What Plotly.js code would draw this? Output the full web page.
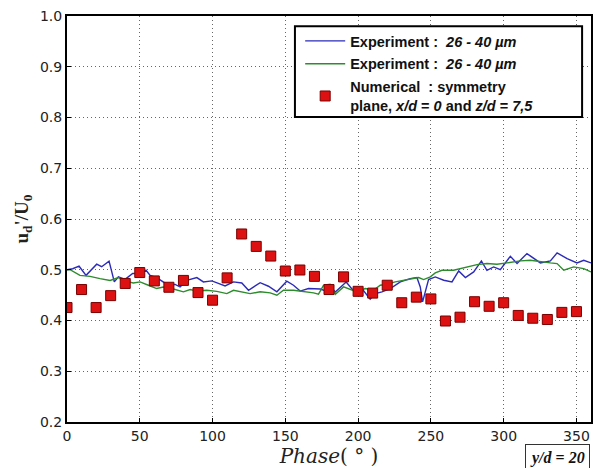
<!DOCTYPE html>
<html>
<head>
<meta charset="utf-8">
<script src="https://cdn.plot.ly/plotly-3.0.1.min.js"></script>
<style>html,body{margin:0;padding:0;background:#fff;}#chart{width:598px;height:468px;}</style>
</head>
<body>
<div id="chart"></div>
<script>
// Experiment (blue)
const blueX = [0, 3.9, 8.3, 13.1, 20.4, 23.8, 28.9, 32.5, 35.3, 39.9, 45.1, 50.2, 54.3, 57.1, 61.6, 68.5, 74.3, 77.7, 82.3, 89.2, 93.7, 99.5, 104, 108.6, 114.4, 120.1, 124.7, 132.7, 138.4, 144.2, 151, 155.6, 160.2, 165.9, 174, 178.5, 180.4, 184.3, 191.8, 196.9, 202.6, 208.3, 211.8, 216.4, 222.1, 229, 235.8, 240.4, 242.7, 244.3, 248.4, 253, 258.8, 264.5, 269.1, 273.7, 279.4, 284.7, 288.5, 293.1, 297.7, 304.6, 309.2, 316, 325.2, 332.1, 336.7, 343.6, 350.4, 355, 360];
const blueY = [0.500, 0.502, 0.507, 0.489, 0.511, 0.506, 0.517, 0.476, 0.486, 0.481, 0.4925, 0.4925, 0.499, 0.489, 0.4845, 0.4715, 0.471, 0.466, 0.479, 0.4845, 0.476, 0.478, 0.473, 0.468, 0.476, 0.474, 0.4595, 0.4745, 0.4675, 0.4565, 0.4775, 0.4695, 0.458, 0.463, 0.462, 0.4575, 0.4695, 0.4563, 0.476, 0.4583, 0.463, 0.4419, 0.453, 0.4563, 0.463, 0.476, 0.4826, 0.4846, 0.4662, 0.4366, 0.4806, 0.4859, 0.4793, 0.476, 0.4977, 0.4846, 0.4957, 0.5174, 0.499, 0.5056, 0.5003, 0.5266, 0.5122, 0.5319, 0.5135, 0.5174, 0.5332, 0.522, 0.5135, 0.5187, 0.5135];
// Experiment (green)
const greenX = [0, 2.1, 8.9, 15.8, 22.7, 29.6, 35.3, 39.9, 45.6, 50.2, 55.9, 61.6, 66.2, 73.1, 80, 84.6, 89.2, 96, 102.9, 109.8, 114.4, 118.9, 125.8, 132.7, 139.6, 144.2, 148.7, 155.6, 162.5, 169.4, 172.8, 176.3, 180.8, 184.3, 190, 195.7, 199.2, 204.9, 210.6, 215.2, 219.8, 225.5, 231.3, 237, 241.6, 245, 249.6, 253, 257.6, 265.6, 270.2, 274.8, 281.7, 288.5, 295.4, 302.3, 311.5, 318.3, 325.2, 332.1, 336.7, 341.3, 348.1, 355, 360];
const greenY = [0.500, 0.500, 0.489, 0.487, 0.4825, 0.479, 0.4845, 0.4775, 0.474, 0.476, 0.4695, 0.463, 0.466, 0.462, 0.4565, 0.461, 0.458, 0.4595, 0.4575, 0.453, 0.4595, 0.4575, 0.453, 0.4565, 0.4545, 0.4497, 0.4595, 0.4595, 0.4575, 0.4545, 0.452, 0.4695, 0.4714, 0.4517, 0.4662, 0.461, 0.4563, 0.463, 0.4596, 0.4695, 0.4714, 0.476, 0.4793, 0.4826, 0.4846, 0.4806, 0.4859, 0.4938, 0.499, 0.499, 0.5023, 0.5056, 0.5102, 0.5122, 0.5109, 0.5135, 0.5174, 0.5187, 0.5154, 0.5135, 0.5122, 0.499, 0.5056, 0.5023, 0.4957];
// Numerical
const numX = [0, 10, 20, 30, 40, 50, 60, 70, 80, 90, 100, 110, 120, 130, 140, 150, 160, 170, 180, 190, 200, 210, 220, 230, 240, 250, 260, 270, 280, 290, 300, 310, 320, 330, 340, 350];
const numY = [0.4255, 0.461, 0.4255, 0.449, 0.473, 0.4945, 0.478, 0.4655, 0.479, 0.455, 0.440, 0.484, 0.5705, 0.546, 0.527, 0.4975, 0.4995, 0.487, 0.461, 0.486, 0.4575, 0.454, 0.4695, 0.435, 0.446, 0.4425, 0.399, 0.4065, 0.437, 0.428, 0.435, 0.410, 0.4045, 0.402, 0.416, 0.4175];

const xTicks = [0, 50, 100, 150, 200, 250, 300, 350];
const yTicks = [0.2, 0.3, 0.4, 0.5, 0.6, 0.7, 0.8, 0.9, 1.0];

const traces = [
  {x: blueX, y: blueY, type: 'scatter', mode: 'lines', name: '<b>Experiment :  <i>26 - 40 µm</i></b>',
   line: {color: '#2b2bb8', width: 1.4}, legendgroup: 'a'},
  {x: greenX, y: greenY, type: 'scatter', mode: 'lines', name: '<b>Experiment :  <i>26 - 40 µm</i></b>',
   line: {color: '#2e8b2e', width: 1.4}, legendgroup: 'b'},
  {x: numX, y: numY, type: 'scatter', mode: 'markers', name: '<b>Numerical  : symmetry<br>plane, <i>x/d</i> = <i>0</i> and <i>z/d</i> = <i>7,5</i></b>',
   marker: {symbol: 'square', size: 10, color: '#dd1111', line: {color: '#7a0000', width: 1}}, legendgroup: 'c'}
];

const axisCommon = {
  showline: true, linecolor: '#000', linewidth: 2, mirror: true,
  ticks: 'inside', ticklen: 4, tickcolor: '#000',
  showgrid: true, gridcolor: '#666', griddash: '1px,3px', gridwidth: 1,
  zeroline: false,
  tickfont: {family: 'DejaVu Sans', size: 14, color: '#222'}
};

const layout = {
  width: 598, height: 468,
  margin: {l: 67, r: 7, t: 16, b: 46},
  paper_bgcolor: '#fff', plot_bgcolor: '#fff',
  showlegend: true,
  xaxis: Object.assign({}, axisCommon, {
    range: [0, 360], tickvals: xTicks, ticktext: xTicks.map(String),
    title: {text: '<i>Phase</i>( ° )', font: {family: 'DejaVu Serif', size: 20, color: '#222'}, standoff: 4}
  }),
  yaxis: Object.assign({}, axisCommon, {
    range: [0.2, 1.0], tickvals: yTicks, ticktext: yTicks.map(v => v.toFixed(1)),
    title: {text: "<b>u<sub>d</sub>'/U<sub>0</sub></b>", font: {family: 'Liberation Serif', size: 19, color: '#222'}, standoff: 6}
  }),
  legend: {
    x: 0.445, y: 0.978, xanchor: 'left', yanchor: 'top',
    bgcolor: 'rgba(0,0,0,0)', borderwidth: 0,
    font: {family: 'Liberation Sans', size: 14.5, color: '#111'},
    tracegroupgap: 1, itemwidth: 40
  },
  shapes: [{
    type: 'rect', xref: 'paper', yref: 'paper',
    x0: 0.435, x1: 0.983, y0: 0.751, y1: 0.975,
    line: {color: '#000', width: 2}, fillcolor: '#fff', layer: 'above'
  }],
  annotations: [{
    xref: 'paper', yref: 'paper', x: 0.999, y: -0.055, xanchor: 'right', yanchor: 'top',
    text: '<b><i>y/d</i> = <i>20</i></b>', showarrow: false,
    font: {family: 'Liberation Serif', size: 16, color: '#111'},
    bordercolor: '#333', borderwidth: 1, borderpad: 4, bgcolor: '#fff'
  }]
};

Plotly.newPlot('chart', traces, layout, {displayModeBar: false, staticPlot: true});
</script>
</body>
</html>
